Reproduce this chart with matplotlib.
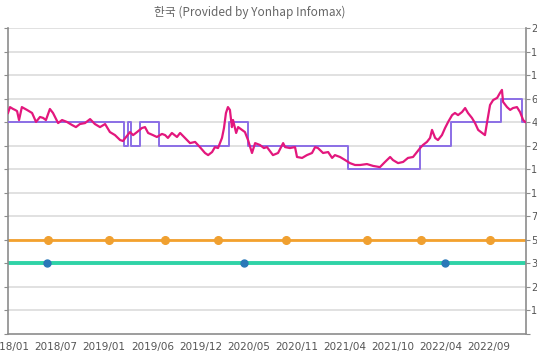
import matplotlib
matplotlib.use("Agg")
import matplotlib.pyplot as plt
import numpy as np
import pandas as pd

title = "한국 (Provided by Yonhap Infomax)"

x_tick_labels = ["2018/01", "2018/07", "2019/01", "2019/06", "2019/12", "2020/05",
                 "2020/11", "2021/04", "2021/10", "2022/04", "2022/09"]
right_tick_labels = ["", "1", "2", "3", "5", "7", "1", "1", "2", "4", "6", "1", "1", "2"]

x_start = "2018-01-01"
x_end = "2023-01-05"

# daily index line (pink)
pink_dates = [
    "2018-01-01", "2018-01-08", "2018-01-19", "2018-01-26", "2018-02-02", "2018-02-09",
    "2018-02-19", "2018-03-09", "2018-03-27", "2018-04-10", "2018-04-24", "2018-05-05",
    "2018-05-15", "2018-05-29", "2018-06-09", "2018-06-27", "2018-07-11", "2018-07-28",
    "2018-08-15", "2018-08-29", "2018-09-12", "2018-09-30", "2018-10-18", "2018-11-04",
    "2018-11-22", "2018-12-10", "2018-12-27", "2019-01-14", "2019-02-01", "2019-02-11",
    "2019-03-08", "2019-03-19", "2019-04-02", "2019-04-19", "2019-04-30", "2019-05-11",
    "2019-05-28", "2019-06-11", "2019-06-29", "2019-07-10", "2019-07-20", "2019-08-03",
    "2019-08-21", "2019-09-01", "2019-09-18", "2019-10-06", "2019-10-24", "2019-11-10",
    "2019-11-28", "2019-12-09", "2019-12-23", "2020-01-02", "2020-01-13", "2020-01-27",
    "2020-02-03", "2020-02-10", "2020-02-17", "2020-02-24", "2020-03-02", "2020-03-06",
    "2020-03-17", "2020-03-24", "2020-04-07", "2020-04-17", "2020-04-28", "2020-05-12",
    "2020-05-23", "2020-06-09", "2020-06-23", "2020-07-04", "2020-07-25", "2020-08-12",
    "2020-08-30", "2020-09-06", "2020-09-23", "2020-10-11", "2020-10-18", "2020-11-05",
    "2020-11-22", "2020-12-10", "2020-12-21", "2020-12-31", "2021-01-18", "2021-02-05",
    "2021-02-19", "2021-03-01", "2021-03-19", "2021-04-06", "2021-04-23", "2021-05-11",
    "2021-05-29", "2021-06-22", "2021-07-14", "2021-08-07", "2021-08-25", "2021-09-12",
    "2021-09-22", "2021-10-10", "2021-10-28", "2021-11-14", "2021-12-02", "2021-12-16",
    "2021-12-27", "2022-01-06", "2022-01-20", "2022-01-31", "2022-02-07", "2022-02-18",
    "2022-02-28", "2022-03-14", "2022-03-25", "2022-04-05", "2022-04-19", "2022-04-29",
    "2022-05-10", "2022-05-24", "2022-06-04", "2022-06-14", "2022-06-28", "2022-07-09",
    "2022-07-20", "2022-08-03", "2022-08-13", "2022-08-20", "2022-08-31", "2022-09-11",
    "2022-09-25", "2022-10-05", "2022-10-12", "2022-10-16", "2022-10-30", "2022-11-10",
    "2022-11-20", "2022-12-04", "2022-12-15", "2022-12-26", "2023-01-02",
]
pink_values = [
    9.39, 9.64, 9.56, 9.52, 9.47, 9.09,
    9.64, 9.52, 9.39, 9.01, 9.22, 9.18,
    9.09, 9.56, 9.39, 8.96, 9.09, 9.01,
    8.88, 8.79, 8.92, 8.96, 9.13, 8.92,
    8.79, 8.92, 8.58, 8.45, 8.24, 8.20,
    8.58, 8.45, 8.58, 8.75, 8.79, 8.54,
    8.45, 8.37, 8.50, 8.45, 8.33, 8.54,
    8.37, 8.54, 8.33, 8.11, 8.16, 7.94,
    7.69, 7.60, 7.73, 7.94, 7.90, 8.33,
    8.75, 9.39, 9.64, 9.52, 8.79, 9.09,
    8.54, 8.79, 8.67, 8.58, 8.24, 7.69,
    8.11, 8.03, 7.90, 7.94, 7.60, 7.69,
    8.11, 7.94, 7.90, 7.94, 7.52, 7.48,
    7.60, 7.69, 7.94, 7.90, 7.69, 7.73,
    7.48, 7.60, 7.52, 7.39, 7.26, 7.18,
    7.18, 7.22, 7.14, 7.09, 7.31, 7.52,
    7.39, 7.26, 7.31, 7.48, 7.52, 7.73,
    7.90, 8.03, 8.16, 8.33, 8.67, 8.33,
    8.24, 8.45, 8.75, 9.01, 9.30, 9.39,
    9.30, 9.43, 9.60, 9.39, 9.18, 8.96,
    8.67, 8.54, 8.45, 8.96, 9.73, 9.94,
    10.03, 10.24, 10.37, 9.86, 9.64, 9.52,
    9.60, 9.64, 9.43, 9.09, 9.01,
]

# policy level (purple step line)
step_dates = ["2018-01-01", "2019-02-15", "2019-03-01", "2019-03-12", "2019-04-12",
              "2019-06-18", "2020-02-21", "2020-04-28", "2021-04-16", "2021-12-27",
              "2022-04-15", "2022-10-09", "2022-12-22", "2023-01-05"]
step_values = [9, 8, 9, 8, 9, 8, 9, 8, 7, 8, 9, 10, 9, 9]

# flat reference lines
orange_level = 4.0
orange_marker_dates = ["2018-05-22", "2018-12-24", "2019-07-10", "2020-01-13",
                       "2020-09-09", "2021-06-22", "2021-12-30", "2022-08-31"]
teal_level = 3.0
teal_marker_dates = ["2018-05-19", "2020-04-14", "2022-03-25"]

# ------------------------------------------------------------------
fig = plt.figure(figsize=(5.37, 3.60), dpi=100)
ax = fig.add_axes([8 / 537, 1 - 334 / 360, (526 - 8) / 537, (334 - 28) / 360])

xs = pd.to_datetime(x_start)
xe = pd.to_datetime(x_end)
ax.set_xlim(xs, xe)
ax.set_ylim(0, 13)

for k in range(1, 14):
    ax.axhline(k, color="#dedede", lw=1.3, zorder=0)

ax.plot(pd.to_datetime([x_start, x_end]), [teal_level, teal_level], color="#2fd3a7", lw=2.8, zorder=2)
ax.plot(pd.to_datetime(teal_marker_dates), [teal_level] * len(teal_marker_dates), "o",
        color="#2a78b8", ms=5, zorder=4)
ax.plot(pd.to_datetime([x_start, x_end]), [orange_level, orange_level], color="#f3a12e", lw=2.0, zorder=2)
ax.plot(pd.to_datetime(orange_marker_dates), [orange_level] * len(orange_marker_dates), "o",
        color="#f0a030", ms=5.5, zorder=4)

ax.step(pd.to_datetime(step_dates), step_values, where="post", color="#8b6ee6", lw=1.4, zorder=3)
ax.plot(pd.to_datetime(pink_dates), pink_values, color="#e3177d", lw=1.6, zorder=3)

# x ticks evenly spaced across the axis
tick_pos = [xs + pd.Timedelta(days=170 * i) for i in range(len(x_tick_labels))]
ax.set_xticks(tick_pos)
ax.set_xticklabels(x_tick_labels)
ax.set_yticks(range(0, 14))
ax.set_yticklabels(right_tick_labels)

for s in ["left", "right", "bottom"]:
    ax.spines[s].set_color("#8c8c8c")
    ax.spines[s].set_linewidth(1.2)
ax.spines["top"].set_visible(False)

ax.tick_params(axis="x", length=0, pad=6, labelsize=7.5, labelcolor="#555555")
ax.tick_params(axis="y", left=True, right=True, labelleft=False, labelright=True,
               direction="out", length=3, color="#8c8c8c", labelsize=7,
               labelcolor="#555555", pad=0.8)

fig.text(250 / 537, 1 - 12 / 360, title, ha="center", va="center", fontsize=8.5,
         color="#666666", family=["Noto Sans CJK KR", "DejaVu Sans"])

fig.savefig("out.png", dpi=100)
